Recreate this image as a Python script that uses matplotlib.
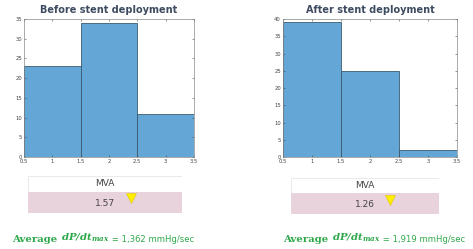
import numpy as np
import matplotlib.pyplot as plt
from matplotlib.patches import Rectangle

# datos de los histogramas
edges = [0.5, 1.5, 2.5, 3.5]
before_counts = [23, 34, 11]
after_counts = [39, 25, 2]
titles = ['Before stent deployment', 'After stent deployment']
mva_values = ['1.57', '1.26']
dpdt_values = ['1,362', '1,919']
xticks = [0.5, 1, 1.5, 2, 2.5, 3, 3.5]
xtick_labels = ['0.5', '1', '1.5', '2', '2.5', '3', '3.5']

plt.rcParams['mathtext.fontset'] = 'custom'
plt.rcParams['mathtext.bf'] = 'DejaVu Serif:bold:italic'

W, H = 473, 249
fig = plt.figure(figsize=(W / 100, H / 100), dpi=100)

def px(x0, y0, x1, y1):
    # convierte pixeles (arriba-izquierda) a coordenadas de figura
    return [x0 / W, 1 - y1 / H, (x1 - x0) / W, (y1 - y0) / H]

bar_color = '#64a7d7'
green = '#2ea84a'

panels = [
    (px(24, 19, 194, 157), before_counts, 35, px(28, 176, 182, 213), 12),
    (px(283, 19, 457, 157), after_counts, 40, px(291, 178, 439, 214), 283),
]

for i, (rect, counts, ymax, trect, tx) in enumerate(panels):
    ax = fig.add_axes(rect)
    ax.bar(edges[:-1], counts, width=1, align='edge', color=bar_color,
           edgecolor='#3d5a70', linewidth=0.6)
    ax.set_xlim(0.5, 3.5)
    ax.set_ylim(0, ymax)
    ax.set_xticks(xticks)
    ax.set_xticklabels(xtick_labels)
    ax.set_yticks(np.arange(0, ymax + 1, 5))
    ax.tick_params(direction='in', length=1.5, width=0.4, labelsize=3.8,
                   top=True, right=True, pad=1.5, colors='#444444')
    for s in ax.spines.values():
        s.set_linewidth(0.5)
        s.set_color('#888888')
    ax.set_title(titles[i], fontsize=7, fontweight='semibold', color='#3e4b60',
                 pad=4)

    # tabla MVA
    tax = fig.add_axes(trect)
    tax.set_xlim(0, 1)
    tax.set_ylim(0, 1)
    tax.axis('off')
    tax.add_patch(Rectangle((0, 0.58), 1, 0.42, facecolor='white',
                            edgecolor='#e6e6e6', linewidth=0.6))
    tax.add_patch(Rectangle((0, 0), 1, 0.58, facecolor='#e8d2dc',
                            edgecolor='#e8d2dc', linewidth=0.6))
    tax.text(0.5, 0.79, 'MVA', ha='center', va='center', fontsize=6.5,
             color='#444444')
    tax.text(0.5, 0.27, mva_values[i], ha='center', va='center', fontsize=6.5,
             color='#444444')
    tax.plot([0.67], [0.4], marker='v', markersize=7, color='#ffee00',
             markeredgecolor='#e0c800', markeredgewidth=0.4)

    # texto dP/dt
    t1 = fig.text(tx / W, 1 - 242 / H, 'Average ', fontsize=7.3,
                  fontweight='bold', family='DejaVu Serif', color=green)
    a2 = plt.annotate(r'$\mathbf{dP/dt}_{\mathbf{max}}$', xy=(1, 0),
                      xycoords=t1, va='bottom', fontsize=7.3, color=green,
                      annotation_clip=False)
    plt.annotate(' = ' + dpdt_values[i] + ' mmHg/sec', xy=(1, 0),
                 xycoords=a2, va='bottom', fontsize=6.1,
                 color=green, annotation_clip=False)

fig.savefig('out.png', dpi=100)
